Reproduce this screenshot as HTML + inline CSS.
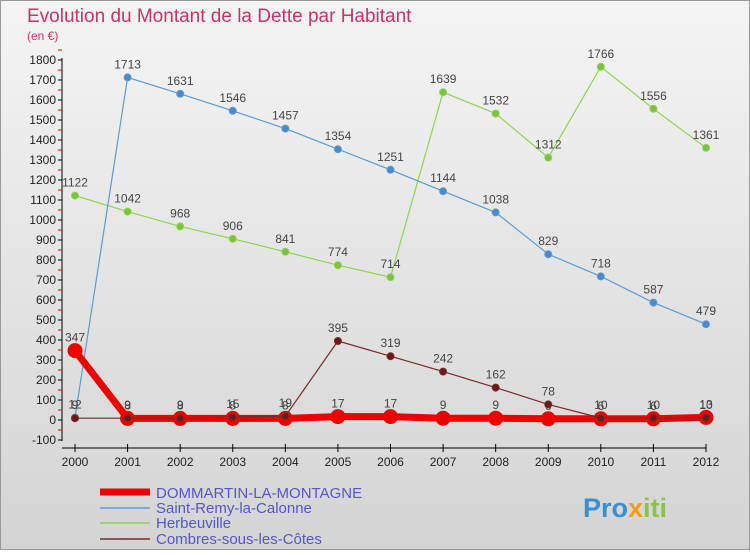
<!DOCTYPE html>
<html><head><meta charset="utf-8"><style>
body{margin:0;width:750px;height:550px;overflow:hidden;font-family:"Liberation Sans",sans-serif}
</style></head><body>
<svg width="750" height="550" xmlns="http://www.w3.org/2000/svg" font-family="Liberation Sans, sans-serif">
<defs><linearGradient id="bg" x1="0" y1="0" x2="0" y2="1"><stop offset="0" stop-color="#f4f4f4"/><stop offset="1" stop-color="#d4d4d4"/></linearGradient></defs>
<rect x="0.5" y="0.5" width="749" height="549" fill="url(#bg)" stroke="#999"/>
<text x="27" y="22" font-size="19" fill="#d0306a">Evolution du Montant de la Dette par Habitant</text>
<text x="27" y="40" font-size="12" fill="#d0306a">(en €)</text>
<g id="axes"></g>
<g id="series"></g>
<g>
<line x1="100" y1="492" x2="150" y2="492" stroke="#e00" stroke-width="7"/>
<text x="156" y="498" font-size="15" fill="#55c">DOMMARTIN-LA-MONTAGNE</text>
<line x1="100" y1="508" x2="150" y2="508" stroke="#5b9bd5" stroke-width="1.5"/>
<text x="156" y="513" font-size="15" fill="#55c">Saint-Remy-la-Calonne</text>
<line x1="100" y1="523" x2="150" y2="523" stroke="#8fd34f" stroke-width="1.5"/>
<text x="156" y="528" font-size="15" fill="#55c">Herbeuville</text>
<line x1="100" y1="539" x2="150" y2="539" stroke="#7a2a2a" stroke-width="1.5"/>
<text x="156" y="544" font-size="15" fill="#55c">Combres-sous-les-Côtes</text>
</g>
<text x="583" y="517" font-size="27" font-weight="bold" fill="#3a8fd0">Pro<tspan fill="#f39c12">x</tspan><tspan fill="#8bc34a">iti</tspan></text>
</svg>
<script>
const years=[2000,2001,2002,2003,2004,2005,2006,2007,2008,2009,2010,2011,2012];
const yTicks=[-100,0,100,200,300,400,500,600,700,800,900,1000,1100,1200,1300,1400,1500,1600,1700,1800];
const dommartin=[347,8,8,8,8,17,17,9,9,6,6,6,13];
const saintRemy=[12,1713,1631,1546,1457,1354,1251,1144,1038,829,718,587,479];
const herbeuville=[1122,1042,968,906,841,774,714,1639,1532,1312,1766,1556,1361];
const combres=[9,9,9,15,19,395,319,242,162,78,10,10,10];
const NS="http://www.w3.org/2000/svg";
const x=i=>75+i*(706-75)/12;
const y=v=>420-v*0.2;
function mk(t,a,p){const e=document.createElementNS(NS,t);for(const k in a)e.setAttribute(k,a[k]);p.appendChild(e);return e;}
const ax=document.getElementById('axes');
const yAxis=mk('line',{x1:62,y1:58,x2:62,y2:441,stroke:'#000'},ax);


const xAxis=mk('line',{x1:62,y1:448,x2:706,y2:448,stroke:'#000'},ax);


yTicks.forEach(v=>{
 mk('line',{x1:58,y1:y(v),x2:62,y2:y(v),stroke:'#000'},ax);
 mk('line',{x1:58,y1:y(v+50),x2:62,y2:y(v+50),stroke:'#e00'},ax);
 const t=mk('text',{x:56,y:y(v)+4,'font-size':12,'text-anchor':'end',fill:'#222'},ax);
 t.textContent=v;
 
 
});
years.forEach((yr,i)=>{
 mk('line',{x1:x(i),y1:444,x2:x(i),y2:452,stroke:'#000'},ax);
 const t=mk('text',{x:x(i),y:466,'font-size':12,'text-anchor':'middle',fill:'#222'},ax);
 t.textContent=yr;
 
 
});
const sg=document.getElementById('series');
function draw(name,data,color,w,r,fillc){
 const g=mk('g',{},sg);
 
 
 mk('polyline',{points:data.map((v,i)=>x(i)+','+y(v)).join(' '),fill:'none',stroke:color,'stroke-width':w,'stroke-linejoin':'round'},g);
 data.forEach((v,i)=>{
  const c=mk('circle',{cx:x(i),cy:y(v),r:r,fill:fillc,stroke:color,'stroke-width':1},g);
  
  
  const t=mk('text',{x:x(i),y:y(v)-9,'font-size':12,'text-anchor':'middle',fill:'#444'},g);
  t.textContent=v;
 });
}
draw('series-herbeuville',herbeuville,'#8fd34f',1.2,3.5,'#7cc23d');
draw('series-saint-remy',saintRemy,'#5b9bd5',1.2,3.5,'#4a8ac8');
draw('series-dommartin',dommartin,'#e00',7,7,'#e00');
draw('series-combres',combres,'#7a2a2a',1.2,3.5,'#6a1a1a');
</script>
</body></html>
